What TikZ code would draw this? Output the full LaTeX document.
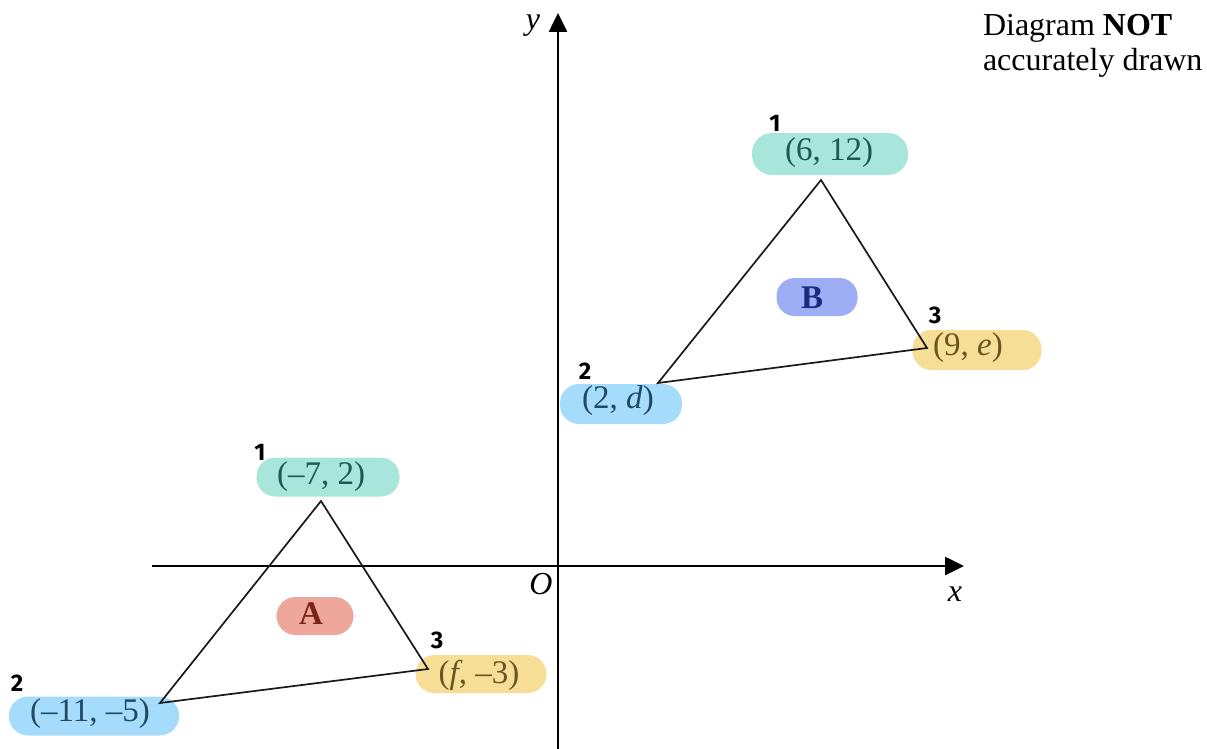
\documentclass[tikz,border=0pt]{standalone}
\usepackage{fontspec}
\setmainfont{Liberation Serif}
\newfontfamily\handfont{Fira Sans}
\usetikzlibrary{arrows.meta}
\definecolor{hgreen}{HTML}{A8E6DC}
\definecolor{tgreen}{HTML}{1F5A50}
\definecolor{hblue}{HTML}{A6DCFB}
\definecolor{tblue}{HTML}{1E4A66}
\definecolor{hyellow}{HTML}{F6DE96}
\definecolor{tyellow}{HTML}{6A5420}
\definecolor{hred}{HTML}{EFA69B}
\definecolor{tred}{HTML}{7A2418}
\definecolor{hviolet}{HTML}{9DAEF5}
\definecolor{tviolet}{HTML}{1A2A80}
\begin{document}
\begin{tikzpicture}[x=1pt,y=-1pt]
\tikzset{
  every node/.style={inner sep=0pt, outer sep=0pt},
  markbox/.style={rounded corners=19pt, minimum height=39pt},
  lbl/.style={font=\fontsize{33}{38}\selectfont},
  axlbl/.style={font=\fontsize{32}{36}\selectfont\itshape},
  notetext/.style={font=\fontsize{32}{36}\selectfont, anchor=base west},
  num/.style={font=\handfont\bfseries\fontsize{24}{26}\selectfont},
  axisline/.style={line width=2.6pt, -{Triangle[length=19pt,width=18pt]}},
  triedge/.style={line width=1.7pt, line join=miter, draw=black!90},
}
\useasboundingbox (0,0) rectangle (1207,749);

% highlights
\node[markbox, fill=hgreen, minimum width=156pt, minimum height=42pt, rounded corners=20pt] (hB1) at (830,154) {};
\node[markbox, fill=hviolet, minimum width=81pt, minimum height=38pt, rounded corners=18pt] (hB) at (817,297) {};
\node[markbox, fill=hyellow, minimum width=129pt, minimum height=40pt] (hB3) at (977,350) {};
\node[markbox, fill=hblue, minimum width=122pt, minimum height=40pt] (hB2) at (621,404) {};
\node[markbox, fill=hgreen, minimum width=143pt] (hA1) at (328,477) {};
\node[markbox, fill=hred, minimum width=77pt, minimum height=38pt] (hA) at (315,616) {};
\node[markbox, fill=hyellow, minimum width=131pt, minimum height=38pt] (hA3) at (481,674) {};
\node[markbox, fill=hblue, minimum width=170pt, minimum height=39pt] (hA2) at (94,716) {};

% axes
\coordinate (xs) at (152,566);
\coordinate (xe) at (964,566);
\coordinate (ys) at (558,749);
\coordinate (ye) at (558,13);
\draw[axisline] (xs) -- (xe);
\draw[axisline] (ys) -- (ye);
\node[axlbl] (xl) at (955,594) {x};
\node[axlbl] (yl) at (533,26) {y};
\node[axlbl] (ol) at (541,584) {O};

% triangle B
\coordinate (B1) at (821,180);
\coordinate (B2) at (658,383);
\coordinate (B3) at (927,348);
\draw[triedge] (B1) -- (B2) -- (B3) -- cycle;

% triangle A
\coordinate (A1) at (321,501);
\coordinate (A2) at (160,703);
\coordinate (A3) at (428,669);
\draw[triedge] (A1) -- (A2) -- (A3) -- cycle;

% labels
\node[lbl, text=tgreen] (tB1) at (829,153) {(6, 12)};
\node[lbl, text=tviolet, font=\fontsize{33}{38}\selectfont\bfseries] (tB) at (812,298) {B};
\node[lbl, text=tyellow] (tB3) at (968,348) {(9, \textit{e})};
\node[lbl, text=tblue] (tB2) at (618,401) {(2, \textit{d})};
\node[lbl, text=tgreen] (tA1) at (321,477) {(–7, 2)};
\node[lbl, text=tred, font=\fontsize{33}{38}\selectfont\bfseries] (tA) at (311,614) {A};
\node[lbl, text=tyellow] (tA3) at (479,675) {(\textit{f}, –3)};
\node[lbl, text=tblue] (tA2) at (90,714) {(–11, –5)};

% vertex numbers
\node[num] (nB1) at (775,123) {1};
\node[num] (nB2) at (585,371) {2};
\node[num] (nB3) at (935,315) {3};
\node[num] (nA1) at (260,452) {1};
\node[num] (nA2) at (17,683) {2};
\node[num] (nA3) at (437,640) {3};

% note
\node[notetext] (note1) at (983,36) {Diagram \textbf{NOT}};
\node[notetext] (note2) at (983,71) {accurately drawn};
\end{tikzpicture}
\end{document}
